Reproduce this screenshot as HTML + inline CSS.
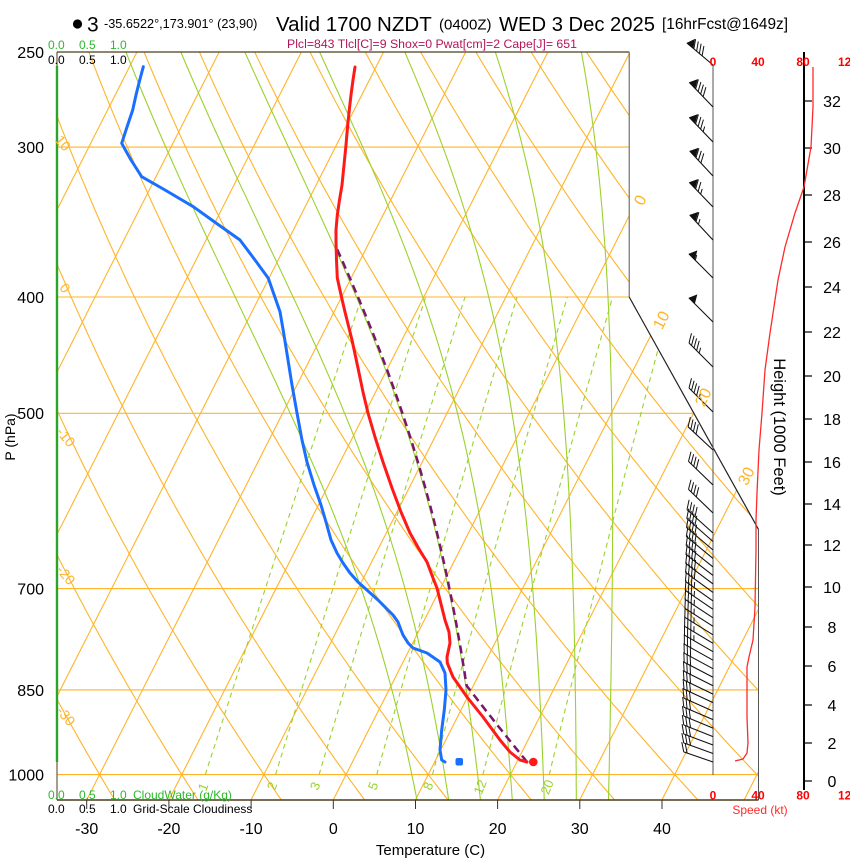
<!DOCTYPE html>
<html><head><meta charset="utf-8">
<style>
html,body{margin:0;padding:0;background:#fff;}
svg{display:block;font-family:"Liberation Sans",Arial,sans-serif;}
</style></head><body>
<svg id="s" width="850" height="860" viewBox="0 0 850 860" xmlns="http://www.w3.org/2000/svg">
<defs><clipPath id="cp"><polygon points="57,52 629.2,52 629.2,297 758.5,529.4 758.5,800 57,800"/></clipPath></defs>
<rect width="850" height="860" fill="#fff"/>

<g id="bg" clip-path="url(#cp)" fill="none">
  <g stroke="#FFB42A" stroke-width="1.1">
    <line x1="57" y1="774.6" x2="760" y2="774.6"/>
    <line x1="57" y1="689.9" x2="760" y2="689.9"/>
    <line x1="57" y1="588.6" x2="760" y2="588.6"/>
    <line x1="57" y1="413.3" x2="760" y2="413.3"/>
    <line x1="57" y1="297" x2="760" y2="297"/>
    <line x1="57" y1="147.1" x2="760" y2="147.1"/>
  </g>
</g>

<!-- frame -->
<g fill="none">
  <line x1="57" y1="52" x2="57" y2="800" stroke="#4b3d1c" stroke-width="1"/>
  <line x1="57" y1="66" x2="57" y2="762" stroke="#2aa52a" stroke-width="2.4"/>
  <line x1="57" y1="52" x2="629.2" y2="52" stroke="#4b3d1c" stroke-width="1.3"/>
  <line x1="629.2" y1="52" x2="629.2" y2="297" stroke="#555" stroke-width="1"/>
  <line x1="629.2" y1="297" x2="758.5" y2="529.4" stroke="#222" stroke-width="1.2"/>
  <line x1="758.5" y1="529.4" x2="758.5" y2="800" stroke="#555" stroke-width="1"/>
  <line x1="57" y1="800" x2="758.5" y2="800" stroke="#4b3d1c" stroke-width="1.5"/>
  <g stroke="#333" stroke-width="1">
    <line x1="86.7" y1="800" x2="86.7" y2="809"/>
    <line x1="168.9" y1="800" x2="168.9" y2="809"/>
    <line x1="251.1" y1="800" x2="251.1" y2="809"/>
    <line x1="333.3" y1="800" x2="333.3" y2="809"/>
    <line x1="415.5" y1="800" x2="415.5" y2="809"/>
    <line x1="497.6" y1="800" x2="497.6" y2="809"/>
    <line x1="579.8" y1="800" x2="579.8" y2="809"/>
    <line x1="662" y1="800" x2="662" y2="809"/>
  </g>
  <line x1="713" y1="65" x2="713" y2="775" stroke="#555" stroke-width="1"/>
  <line x1="804" y1="52" x2="804" y2="790" stroke="#000" stroke-width="2"/>
  <g stroke="#000" stroke-width="1.2">
    <line x1="804" y1="781" x2="812" y2="781"/>
    <line x1="804" y1="743" x2="812" y2="743"/>
    <line x1="804" y1="705" x2="812" y2="705"/>
    <line x1="804" y1="666" x2="812" y2="666"/>
    <line x1="804" y1="627" x2="812" y2="627"/>
    <line x1="804" y1="587" x2="812" y2="587"/>
    <line x1="804" y1="545" x2="812" y2="545"/>
    <line x1="804" y1="504" x2="812" y2="504"/>
    <line x1="804" y1="462" x2="812" y2="462"/>
    <line x1="804" y1="419" x2="812" y2="419"/>
    <line x1="804" y1="376" x2="812" y2="376"/>
    <line x1="804" y1="332" x2="812" y2="332"/>
    <line x1="804" y1="287" x2="812" y2="287"/>
    <line x1="804" y1="242" x2="812" y2="242"/>
    <line x1="804" y1="195" x2="812" y2="195"/>
    <line x1="804" y1="148" x2="812" y2="148"/>
    <line x1="804" y1="101" x2="812" y2="101"/>
  </g>
</g>

<polyline fill="none" stroke="#ff2a2a" stroke-width="1.3" points="813,67 813,107 811,147 804,187 795,213 785,247 778,280 772,320 770,333 765,370 762,413 759,450 757,493 756,520 756,550 755,607 753,640 749,657 747,667 747,717 748,743 747,753 743,759 735,761"/>

<g id="barbs" stroke="#111" fill="#111"></g>

<g fill="#FFB42A" font-size="16" text-anchor="middle">
  <text transform="translate(640,200) rotate(-63)" dy="0.35em">0</text>
  <text transform="translate(661,320) rotate(-63)" dy="0.35em">10</text>
  <text transform="translate(703,397) rotate(-63)" dy="0.35em">20</text>
  <text transform="translate(746,476) rotate(-63)" dy="0.35em">30</text>
</g>
<g fill="#FFB42A" font-size="14" text-anchor="middle">
  <text transform="translate(63,143) rotate(50)" dy="0.35em">10</text>
  <text transform="translate(65,288) rotate(50)" dy="0.35em">0</text>
  <text transform="translate(66,437) rotate(50)" dy="0.35em">-10</text>
  <text transform="translate(66,575) rotate(50)" dy="0.35em">-20</text>
  <text transform="translate(66,716) rotate(50)" dy="0.35em">-30</text>
</g>
<g fill="#9BD12C" font-size="13" text-anchor="middle">
  <text transform="translate(203,787) rotate(-68)" dy="0.35em">1</text>
  <text transform="translate(272,786) rotate(-68)" dy="0.35em">2</text>
  <text transform="translate(315,786) rotate(-68)" dy="0.35em">3</text>
  <text transform="translate(373,786) rotate(-68)" dy="0.35em">5</text>
  <text transform="translate(428,786) rotate(-68)" dy="0.35em">8</text>
  <text transform="translate(480,787) rotate(-68)" dy="0.35em">12</text>
  <text transform="translate(547,787) rotate(-68)" dy="0.35em">20</text>
</g>

<g id="parcel"></g>
<polyline fill="none" stroke="#1a6fff" stroke-width="3" stroke-linejoin="round" stroke-linecap="round" points="143.3,66.7 139.3,81.7 136,95 132.7,110 127,127 121.7,143.3 131,160 141.7,176.7 165,190 193.3,206.7 216,223 240,240 255,260 268.3,278.3 280,311.7 284,335 288,360 292,385 297,413 302,440 307,462 314,485 321,505 326,522 331,540 337,553 343,563 350,573 358,582 368,591 378,600 387,609 393,615 398,622 401,630 403,635 408,643 413,648 427,653 440,662 445,673 446,690 444.3,710 441.7,730 440,750 441.7,760 445,762"/>
<polyline fill="none" stroke="#ff1a1a" stroke-width="3" stroke-linejoin="round" stroke-linecap="round" points="355,67 353,80 351,95 349.5,108 347.7,125 346,145 344,165 342,185 339.5,200 337.3,215 336,230 336,242 336.5,260 337.3,278 341.5,297 345,312 352,340 358,368 363,392 368,413 375,437 383,462 392,488 401,512 410,533 419,549 427,562 433,578 437,588 441,604 445,620 449,632 450,643 447,657 447.3,663 453,677 467,697 483,717 500,740 510,752 520,760 527,762"/>
<rect x="455.5" y="758" width="7.5" height="7.5" rx="2" fill="#1a6fff"/>
<circle cx="533.3" cy="762" r="4.3" fill="#ff1a1a"/>

<circle cx="77.5" cy="24" r="4.6" fill="#000"/>
<text x="87" y="31.5" font-size="21" fill="#000">3</text>
<text x="104" y="28" font-size="12.7" fill="#000">-35.6522°,173.901° (23,90)</text>
<text x="276" y="31" font-size="20.5" fill="#000">Valid 1700 NZDT</text>
<text x="439" y="29.5" font-size="15" fill="#000">(0400Z)</text>
<text x="499" y="31" font-size="20.2" fill="#000">WED 3 Dec 2025</text>
<text x="662" y="29" font-size="15.4" fill="#000">[16hrFcst@1649z]</text>
<text x="287" y="48" font-size="12.3" fill="#B4145A">Plcl=843 Tlcl[C]=9 Shox=0 Pwat[cm]=2 Cape[J]= 651</text>

<g font-size="12" fill="#2DB82D">
  <text x="48" y="49">0.0</text><text x="79" y="49">0.5</text><text x="110" y="49">1.0</text>
  <text x="48" y="799">0.0</text><text x="79" y="799">0.5</text><text x="110" y="799">1.0</text>
  <text x="133" y="799">CloudWater (g/Kg)</text>
</g>
<g font-size="12" fill="#000">
  <text x="48" y="64">0.0</text><text x="79" y="64">0.5</text><text x="110" y="64">1.0</text>
  <text x="48" y="813">0.0</text><text x="79" y="813">0.5</text><text x="110" y="813">1.0</text>
  <text x="133" y="813">Grid-Scale Cloudiness</text>
</g>

<g font-size="16" fill="#000" text-anchor="end">
  <text x="44" y="58">250</text>
  <text x="44" y="153">300</text>
  <text x="44" y="303">400</text>
  <text x="44" y="419">500</text>
  <text x="44" y="594.5">700</text>
  <text x="44" y="696">850</text>
  <text x="44" y="780.5">1000</text>
</g>
<text transform="translate(10,437) rotate(-90)" font-size="14" text-anchor="middle" dy="0.35em" fill="#000">P (hPa)</text>

<g font-size="16" fill="#000" text-anchor="middle">
  <text x="86.7" y="834">-30</text>
  <text x="168.9" y="834">-20</text>
  <text x="251.1" y="834">-10</text>
  <text x="333.3" y="834">0</text>
  <text x="415.5" y="834">10</text>
  <text x="497.6" y="834">20</text>
  <text x="579.8" y="834">30</text>
  <text x="662" y="834">40</text>
</g>
<text x="430.5" y="855" font-size="15" text-anchor="middle" fill="#000">Temperature (C)</text>

<g font-size="12" font-weight="bold" fill="#ff0000" text-anchor="middle">
  <text x="713" y="66">0</text><text x="758" y="66">40</text><text x="803" y="66">80</text><text x="848" y="66">120</text>
  <text x="713" y="799.5">0</text><text x="758" y="799.5">40</text><text x="803" y="799.5">80</text><text x="848" y="799.5">120</text>
</g>
<text x="760" y="814" font-size="12" fill="#ff2a2a" text-anchor="middle">Speed (kt)</text>

<g font-size="16" fill="#000" text-anchor="middle">
  <text x="832" y="786.8">0</text>
  <text x="832" y="748.8">2</text>
  <text x="832" y="710.8">4</text>
  <text x="832" y="671.8">6</text>
  <text x="832" y="632.8">8</text>
  <text x="832" y="592.8">10</text>
  <text x="832" y="550.8">12</text>
  <text x="832" y="509.8">14</text>
  <text x="832" y="467.8">16</text>
  <text x="832" y="424.8">18</text>
  <text x="832" y="381.8">20</text>
  <text x="832" y="337.8">22</text>
  <text x="832" y="292.8">24</text>
  <text x="832" y="247.8">26</text>
  <text x="832" y="200.8">28</text>
  <text x="832" y="153.8">30</text>
  <text x="832" y="106.8">32</text>
</g>
<text transform="translate(780,427) rotate(90)" font-size="16.5" text-anchor="middle" dy="0.35em" fill="#000">Height (1000 Feet)</text>
</svg>

<script>
(function(){
var NS='http://www.w3.org/2000/svg';
function Yp(p){return 132.182-44.061*Math.log10(p);}
function PX(X){return 57+(X+19)*15.217;}
function PY(Y){return 800-(Y+0.9346217)*27.239;}
function pt(T,p){var Y=Yp(p);return [PX(0.54*T+0.90692*Y),PY(Y)];}
function es(Tc){return 6.112*Math.exp(17.67*Tc/(Tc+243.5));}
function thetae(Tk,p){var e=es(Tk-273.15);var r=622*e/(p-e);
  return Tk*Math.pow(1000/p,0.2854*(1-0.00028*r))*Math.exp((3.376/Tk-0.00254)*r*(1+0.00081*r));}
function tmoist(the,p){var lo=150,hi=335;for(var i=0;i<50;i++){var m=(lo+hi)/2;if(thetae(m,p)>the)hi=m;else lo=m;}return (lo+hi)/2-273.15;}
function mk(parent,pts,attrs){var e=document.createElementNS(NS,'path');
  e.setAttribute('d','M'+pts.map(function(q){return q[0].toFixed(1)+','+q[1].toFixed(1);}).join('L'));
  for(var k in attrs)e.setAttribute(k,attrs[k]);parent.appendChild(e);}
var g=document.getElementById('bg');
var OR='#FFB42A',GR='#9BD12C';
var T,p,pts;
for(T=-90;T<=60;T+=10){mk(g,[pt(T,1060),pt(T,245)],{stroke:OR,'stroke-width':'1.1'});}
for(var th=-50;th<=170;th+=10){pts=[];for(p=1060;p>=245;p-=5){pts.push(pt((th+273.15)*Math.pow(p/1000,0.2857)-273.15,p));}
  mk(g,pts,{stroke:OR,'stroke-width':'1.1'});}
for(var tw=8;tw<=32;tw+=4){var the=thetae(tw+273.15,1000);pts=[];for(p=1060;p>=245;p-=10){pts.push(pt(tmoist(the,p),p));}
  mk(g,pts,{stroke:GR,'stroke-width':'1.1'});}
[1,2,3,5,8,12,20].forEach(function(r){pts=[];for(p=1000;p>=400;p-=20){var e=r*p/(622+r);var l=Math.log(e/6.112);var td=243.5*l/(17.67-l);pts.push(pt(td,p));}
  mk(g,pts,{stroke:GR,'stroke-width':'1.1','stroke-dasharray':'5,4'});});
var pg=document.getElementById('parcel');pts=[];
var th0=294.39*Math.pow(1000/976,0.2857);
for(p=976;p>843;p-=4){pts.push(pt(th0*Math.pow(p/1000,0.2857)-273.15,p));}
var Tl=th0*Math.pow(843/1000,0.2857);var the0=thetae(Tl,843);
for(p=843;p>=360;p-=5){pts.push(pt(tmoist(the0,p),p));}
mk(pg,pts,{stroke:'#7B1670','stroke-width':'2.5',fill:'none','stroke-dasharray':'8,5'});
var bg=document.getElementById('barbs');
var prof=[[67,813],[107,813],[147,811],[187,804],[213,795],[247,785],[280,778],[320,772],[333,770],[370,765],[413,762],[450,759],[493,757],[520,756],[550,756],[607,755],[640,753],[657,749],[667,747],[717,747],[743,748],[753,747],[759,743],[761,735],[770,735]];
function spAt(y){for(var i=0;i<prof.length-1;i++){if(y>=prof[i][0]&&y<=prof[i+1][0]){var f=(y-prof[i][0])/(prof[i+1][0]-prof[i][0]);return (prof[i][1]+f*(prof[i+1][1]-prof[i][1])-713)/1.125;}}return 30;}
function ln(x1,y1,x2,y2,w){var e=document.createElementNS(NS,'line');e.setAttribute('x1',x1.toFixed(1));e.setAttribute('y1',y1.toFixed(1));e.setAttribute('x2',x2.toFixed(1));e.setAttribute('y2',y2.toFixed(1));e.setAttribute('stroke-width',w);bg.appendChild(e);}
function barb(ye,a,spd,L){
  var r=a*Math.PI/180,ux=-Math.cos(r),uy=-Math.sin(r);
  var hx=713+L*ux,hy=ye+L*uy;
  ln(713,ye,hx,hy,1.1);
  var fa=(a-120)*Math.PI/180,fx=Math.cos(fa),fy=Math.sin(fa);
  var n50=Math.floor(spd/50),rem=spd-50*n50,n10=Math.floor(rem/10),n5=(rem%10)>=5?1:0;
  var s=0,i,x0,y0;
  for(i=0;i<n50;i++){x0=hx-ux*s;y0=hy-uy*s;var x1=hx-ux*(s+8),y1=hy-uy*(s+8);
    var e=document.createElementNS(NS,'polygon');
    e.setAttribute('points',x0.toFixed(1)+','+y0.toFixed(1)+' '+x1.toFixed(1)+','+y1.toFixed(1)+' '+(x1+fx*9).toFixed(1)+','+(y1+fy*9).toFixed(1));
    e.setAttribute('stroke-width','0.6');bg.appendChild(e);s+=9;}
  for(i=0;i<n10;i++){x0=hx-ux*s;y0=hy-uy*s;ln(x0,y0,x0+fx*10,y0+fy*10,1);s+=3.6;}
  if(n5){if(s==0)s=3.6;x0=hx-ux*s;y0=hy-uy*s;ln(x0,y0,x0+fx*5.5,y0+fy*5.5,1);}
}
[[65,40,90],[107,46,90],[142,46,85],[176,47,80],[207,46,75],[240,47,65],[278,45,55],[322,45,50],[367,45,45],[412,45,45],[450,43,40],[485,44,40],[513,44,40]].forEach(function(b){barb(b[0],b[1],b[2],34);});
for(var i=0;i<=27;i++){var ye=533+i*(762-533)/27;var f=i/27;var sp=Math.round(spAt(ye)/5)*5;barb(ye,42-23*f,sp,35-4*f);}
})();
</script>
</body></html>
